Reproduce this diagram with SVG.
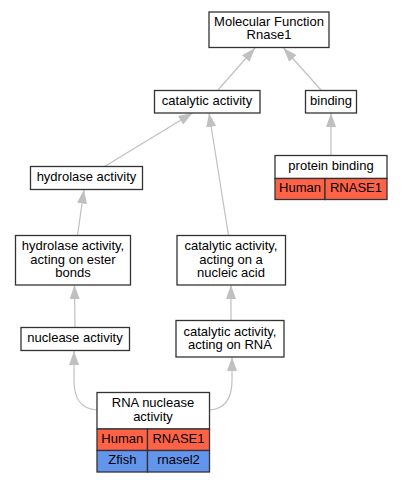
<svg xmlns="http://www.w3.org/2000/svg" width="403" height="483" viewBox="0 0 403 483">
<style>
text{font-family:"Liberation Sans",Arial,sans-serif;font-size:13px;text-anchor:middle;fill:#000}
.box{fill:#fff;stroke:#333;stroke-width:1.3}
.hum{fill:#ff6347;stroke:#333;stroke-width:1.3}
.zf{fill:#6495ed;stroke:#333;stroke-width:1.3}
.e{fill:none;stroke:#c0c0c0;stroke-width:1.2;marker-end:url(#ah)}
</style>
<defs>
<marker id="ah" viewBox="0 0 14 10" refX="14" refY="5" markerWidth="14" markerHeight="10" markerUnits="userSpaceOnUse" orient="auto">
<path d="M0,0 L14,5 L0,10 z" fill="#c0c0c0"/>
</marker>
</defs>
<rect width="403" height="483" fill="#fff"/>
<g id="edges">
<path class="e" d="M218,90 L255,48"/>
<path class="e" d="M321,90 L283.5,48"/>
<path class="e" d="M331,155 L331,113"/>
<path class="e" d="M104.5,166.5 L192.5,113"/>
<path class="e" d="M228.5,235.5 L209,113"/>
<path class="e" d="M77.5,235.5 L84,189.5"/>
<path class="e" d="M75,327 L74.5,285"/>
<path class="e" d="M231,320.5 L231,285"/>
<path class="e" d="M97,410 C80,409 74,398 74,380 L74,351"/>
<path class="e" d="M209.5,410 C226,409 232,398 232,380 L232,357"/>
</g>
<g id="mf">
<rect class="box" x="209" y="12" width="120" height="35.5"/>
<text x="269" y="25.5">Molecular Function</text>
<text x="269" y="39">Rnase1</text>
</g>
<g id="catalytic">
<rect class="box" x="154.5" y="90.5" width="105.5" height="22.5"/>
<text x="207" y="105">catalytic activity</text>
</g>
<g id="binding">
<rect class="box" x="305.5" y="90.5" width="51" height="22.5"/>
<text x="331" y="105">binding</text>
</g>
<g id="protein_binding">
<rect class="box" x="275" y="155.5" width="112" height="23"/>
<text x="331" y="170">protein binding</text>
<rect class="hum" x="275" y="178.5" width="50" height="21"/>
<rect class="hum" x="325" y="178.5" width="62" height="21"/>
<text x="300" y="192">Human</text>
<text x="356" y="192">RNASE1</text>
</g>
<g id="hydrolase">
<rect class="box" x="30.5" y="166.5" width="112" height="23"/>
<text x="86.5" y="181">hydrolase activity</text>
</g>
<g id="ester">
<rect class="box" x="15.5" y="235.5" width="115" height="49.5"/>
<text x="73" y="250">hydrolase activity,</text>
<text x="73" y="263.5">acting on ester</text>
<text x="73" y="277">bonds</text>
</g>
<g id="nucleic">
<rect class="box" x="177" y="235.5" width="108.5" height="49.5"/>
<text x="231" y="250">catalytic activity,</text>
<text x="231" y="263.5">acting on a</text>
<text x="231" y="277">nucleic acid</text>
</g>
<g id="nuclease">
<rect class="box" x="21" y="327.5" width="108.5" height="23"/>
<text x="75" y="342">nuclease activity</text>
</g>
<g id="rna">
<rect class="box" x="176" y="320.5" width="108" height="36.5"/>
<text x="230" y="335.5">catalytic activity,</text>
<text x="230" y="349">acting on RNA</text>
</g>
<g id="rna_nuclease">
<rect class="box" x="97" y="392.5" width="112.5" height="36.5"/>
<text x="153" y="407">RNA nuclease</text>
<text x="153" y="421">activity</text>
<rect class="hum" x="97" y="429" width="50.5" height="21.5"/>
<rect class="hum" x="147.5" y="429" width="62" height="21.5"/>
<rect class="zf" x="97" y="450.5" width="50.5" height="21.5"/>
<rect class="zf" x="147.5" y="450.5" width="62" height="21.5"/>
<text x="122.3" y="443">Human</text>
<text x="178.5" y="443">RNASE1</text>
<text x="122.3" y="464">Zfish</text>
<text x="178.5" y="464">rnasel2</text>
</g>
</svg>
